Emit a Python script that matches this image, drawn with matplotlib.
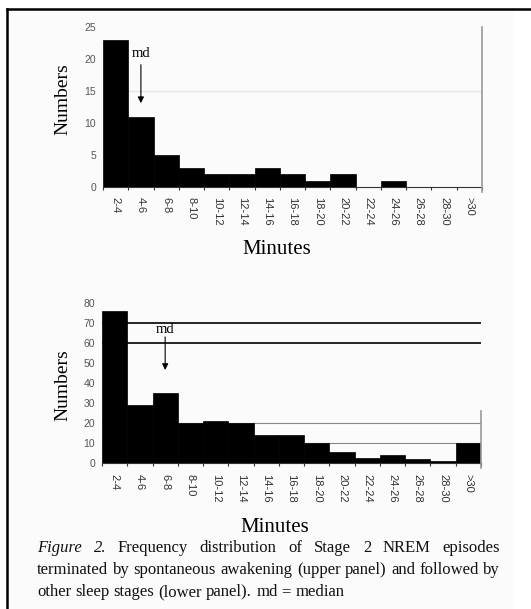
import matplotlib
matplotlib.use("Agg")
import matplotlib.pyplot as plt
import numpy as np

# ---- data ----
bins_top = ["2-4", "4-6", "6-8", "8-10", "10-12", "12-14", "14-16", "16-18",
            "18-20", "20-22", "22-24", "24-26", "26-28", "28-30", ">30"]
counts_top = [23, 11, 5, 3, 2, 2, 3, 2, 1, 2, 0, 1, 0, 0, 0]
bins_bot = bins_top
counts_bot = [76, 29, 35, 20, 21, 20, 14, 14, 10, 5.5, 2.5, 4, 2, 1, 10]
yticks_top = [0, 5, 10, 15, 20, 25]
yticks_bot = [0, 10, 20, 30, 40, 50, 60, 70, 80]
md_top_bin = 1
md_bot_bin = 2

W, H = 531, 609
DPI = 100
fig = plt.figure(figsize=(W / DPI, H / DPI), dpi=DPI)
fig.patch.set_facecolor("white")

serif = ["Liberation Serif", "DejaVu Serif"]
sans = ["Liberation Sans", "DejaVu Sans"]

# page background (slightly off-white scan) and frame
fig.patches.append(plt.Rectangle((6 / W, 0), (513 - 6) / W, 1 - 9 / H,
                                 transform=fig.transFigure, facecolor="#fbfbfb",
                                 edgecolor="none", zorder=-10))
fig.lines.append(plt.Line2D([6.5 / W, 6.5 / W], [0, 1 - 8.5 / H], transform=fig.transFigure,
                            color="black", lw=1.8))
fig.lines.append(plt.Line2D([6.5 / W, 1], [1 - 8.5 / H, 1 - 8.5 / H], transform=fig.transFigure,
                            color="black", lw=1.8))


def panel(rect, labels, counts, yticks, ymax, grid, md_bin, md_text_y, md_from, md_to,
          xlabel_xy, ylabel_xy, xpad, rline_top):
    ax = fig.add_axes(rect)
    ax.set_facecolor("none")
    x = np.arange(len(labels))
    for gy, gc, glw in grid:
        ax.axhline(gy, color=gc, lw=glw, zorder=1)
    ax.bar(x, counts, width=1.0, color="black", edgecolor="black", lw=0.5, zorder=2)
    ax.set_xlim(-0.5, len(labels) - 0.5)
    ax.set_ylim(0, ymax)
    for s in ["left", "top", "right"]:
        ax.spines[s].set_visible(False)
    ax.spines["bottom"].set_color("#333333")
    ax.spines["bottom"].set_linewidth(0.8)
    # right grey line
    ax.plot([len(labels) - 0.5, len(labels) - 0.5], [-0.03 * ymax, rline_top], color="#999999",
            lw=1.2, clip_on=False, zorder=3)
    ax.set_yticks(yticks)
    ax.set_yticklabels([str(v) for v in yticks], fontfamily=sans, fontsize=7.5, color="#555555")
    ax.tick_params(axis="y", length=0, pad=5)
    ax.set_xticks(x)
    ax.set_xticklabels(labels, rotation=-90, fontfamily=sans, fontsize=8, color="#333333")
    ax.tick_params(axis="x", which="major", length=0, pad=xpad)
    ax.set_xticks(np.arange(len(labels) + 1) - 0.5, minor=True)
    ax.tick_params(axis="x", which="minor", length=2.5, width=0.8, color="#333333", direction="out")
    ax.set_xlabel("Minutes", fontfamily=serif, fontsize=15)
    ax.xaxis.set_label_coords(*xlabel_xy)
    ax.xaxis.label.set_va("center")
    ax.set_ylabel("Numbers", fontfamily=serif, fontsize=14)
    ax.yaxis.set_label_coords(*ylabel_xy)
    ax.yaxis.label.set_va("center")
    ax.text(md_bin, md_text_y, "md", fontfamily=serif, fontsize=10.5, ha="center", va="center",
            zorder=4)
    ax.annotate("", xy=(md_bin, md_to), xytext=(md_bin, md_from),
                arrowprops=dict(arrowstyle="-|>", color="black", lw=0.8,
                                mutation_scale=9, shrinkA=0, shrinkB=0), zorder=4)
    return ax


def frac_rect(l, r, top, bot):
    return [l / W, 1 - bot / H, (r - l) / W, (bot - top) / H]


panel(frac_rect(103, 482, 27, 187), bins_top, counts_top, yticks_top, 25,
      [(15, "#e6e6e6", 1.0)], md_top_bin, 20.9, 19.1, 13.1,
      (0.459, -0.39), (-0.106, 0.547), 7, 25)

panel(frac_rect(102, 481, 303, 463), bins_bot, counts_bot, yticks_bot, 80,
      [(10, "#888888", 0.8), (20, "#888888", 0.8), (60, "black", 1.2), (70, "black", 1.2)],
      md_bot_bin, 66.5, 63, 46.5,
      (0.456, -0.40), (-0.103, 0.4875), 8, 26)

# ---- caption (justified) ----
cap_lines = [
    [("Figure", True), ("2.", True), ("Frequency", False), ("distribution", False), ("of", False),
     ("Stage", False), ("2", False), ("NREM", False), ("episodes", False)],
    [(w, False) for w in "terminated by spontaneous awakening (upper panel) and followed by".split()],
    [(w, False) for w in "other sleep stages (lower panel). md = median".split()],
]
cap_left, cap_right = 37, 500
baselines = [552, 574, 596]
FS = 12
renderer = fig.canvas.get_renderer()
for li, (words, base) in enumerate(zip(cap_lines, baselines)):
    texts = []
    for w, it in words:
        t = fig.text(0, 1 - base / H, w, fontfamily=serif, fontsize=FS,
                     style="italic" if it else "normal", va="baseline", ha="left", color="#111111")
        texts.append(t)
    widths = [t.get_window_extent(renderer).width for t in texts]
    if li < 2:
        gap = (cap_right - cap_left - sum(widths)) / (len(texts) - 1)
    else:
        sp = fig.text(0, 0, "a b", fontfamily=serif, fontsize=FS)
        ab = sp.get_window_extent(renderer).width
        sp2 = fig.text(0, 0, "ab", fontfamily=serif, fontsize=FS)
        gap = ab - sp2.get_window_extent(renderer).width
        sp.remove(); sp2.remove()
    xpos = cap_left
    for t, wd in zip(texts, widths):
        t.set_x(xpos / W)
        xpos += wd + gap

fig.savefig("out.png", dpi=DPI)
